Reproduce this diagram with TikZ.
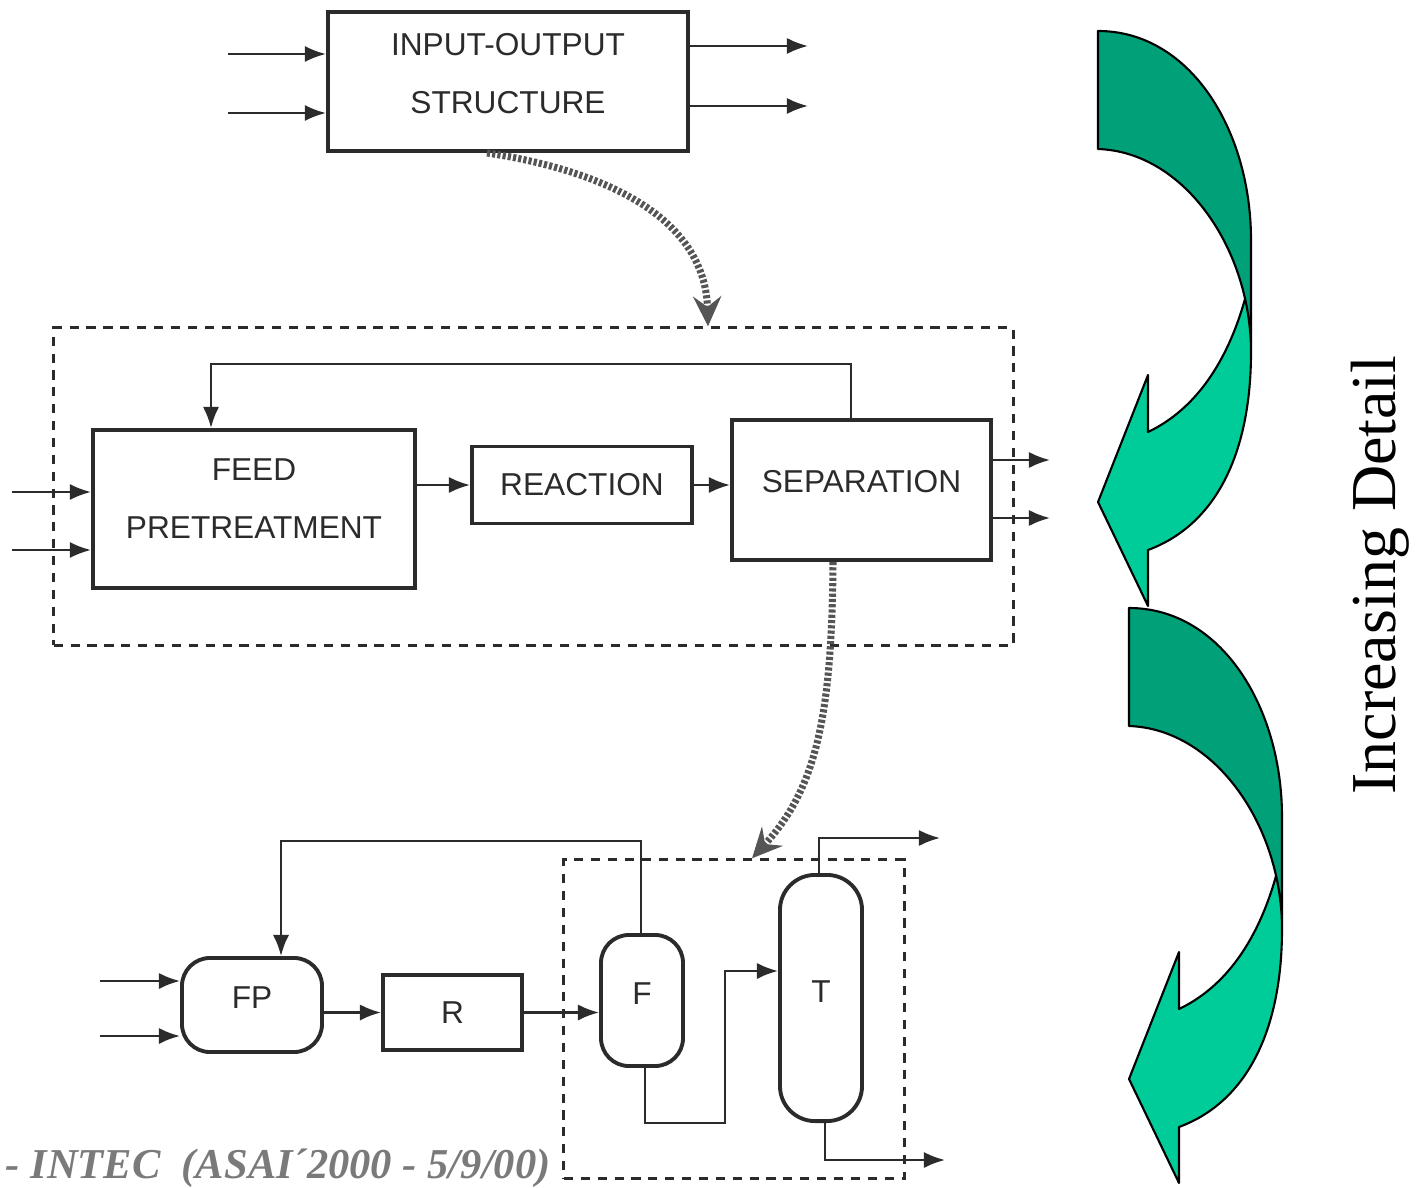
\documentclass[tikz,border=0pt]{standalone}
\usepackage{fontspec}
\setmainfont{Liberation Serif}
\newfontfamily\arialf{Liberation Sans}
\usetikzlibrary{arrows.meta,calc}
\definecolor{ink}{HTML}{2B2B2B}
\definecolor{gdark}{RGB}{0,160,120}
\definecolor{glight}{RGB}{0,204,153}
\definecolor{scangray}{HTML}{555555}
\definecolor{foot}{HTML}{7A7A7A}
\begin{document}
\begin{tikzpicture}[x=0.01cm,y=-0.01cm,
  blk/.style={draw=ink, line width=1.1pt, inner sep=0pt, text=ink, align=center,
    font=\arialf\fontsize{9}{16.5}\selectfont},
  rblk/.style={blk, rounded corners=0.28cm},
  flow/.style={draw=ink, line width=0.7pt, -{Latex[length=6pt,width=4.6pt]}},
  dbox/.style={draw=ink, line width=0.9pt, dash pattern=on 2.6pt off 2.2pt, inner sep=0pt},
  detail/.style={draw=scangray, line width=2pt, dash pattern=on 0.9pt off 0.6pt,
    -{Stealth[length=8.5pt,width=8pt,inset=3pt]}},
  garrow/.style={draw=black, line width=0.6pt, line join=round}]
\useasboundingbox (0,0) rectangle (1418,1188);

% ---- top level
\node[blk, text depth=0.16cm, minimum width=3.6cm, minimum height=1.39cm] (io) at (508,81.5) {INPUT-OUTPUT\\STRUCTURE};
\coordinate (ti1) at (228,54); \coordinate (ti2) at (228,113);
\coordinate (to1) at (808,46); \coordinate (to2) at (808,106);
\draw[flow] (ti1) -- (ti1 -| io.west);
\draw[flow] (ti2) -- (ti2 -| io.west);
\draw[flow] (to1 -| io.east) -- (to1);
\draw[flow] (to2 -| io.east) -- (to2);

% ---- middle level
\node[dbox, minimum width=9.59cm, minimum height=3.17cm] (d1) at (533.5,486.5) {};
\node[blk, text depth=0.2cm, minimum width=3.22cm, minimum height=1.58cm] (feed) at (254,509) {FEED\\PRETREATMENT};
\node[blk, minimum width=2.2cm, minimum height=0.77cm] (reac) at (582,485) {REACTION};
\node[blk, text depth=0.18cm, minimum width=2.59cm, minimum height=1.4cm] (sep) at (861.5,490) {SEPARATION};
\coordinate (fi1) at (12,492); \coordinate (fi2) at (12,550);
\draw[flow] (fi1) -- (fi1 -| feed.west);
\draw[flow] (fi2) -- (fi2 -| feed.west);
\coordinate (so1) at (1050,460); \coordinate (so2) at (1050,518);
\draw[flow] (so1 -| sep.east) -- (so1);
\draw[flow] (so2 -| sep.east) -- (so2);
\draw[flow] (feed.east |- reac.west) -- (reac.west);
\draw[flow] (reac.east) -- (reac.east -| sep.west);
\coordinate (rc1) at (851,364); \coordinate (rc2) at (211,364);
\draw[flow] (rc1 |- sep.north) -- (rc1) -- (rc2) -- (rc2 |- feed.north);

% ---- bottom level
\node[dbox, minimum width=3.4cm, minimum height=3.18cm] (d2) at (734,1019) {};
\node[rblk, text depth=0.14cm, minimum width=1.4cm, minimum height=0.94cm] (fp) at (252,1005) {FP};
\node[blk, minimum width=1.39cm, minimum height=0.75cm] (rr) at (452.5,1012.5) {R};
\node[rblk, text depth=0.14cm, minimum width=0.82cm, minimum height=1.31cm] (ff) at (642,1000.5) {F};
\node[blk, text depth=0.12cm, rounded corners=0.35cm, minimum width=0.82cm, minimum height=2.46cm] (tt) at (821,998) {T};
\coordinate (pi1) at (100,981); \coordinate (pi2) at (100,1036);
\draw[flow] (pi1) -- (pi1 -| fp.west);
\draw[flow] (pi2) -- (pi2 -| fp.west);
\draw[flow] (fp.east |- rr.west) -- (rr.west);
\draw[flow] (rr.east) -- (rr.east -| ff.west);
\coordinate (bc1) at (641,841); \coordinate (bc2) at (281,841);
\draw[flow] (bc1 |- ff.north) -- (bc1) -- (bc2) -- (bc2 |- fp.north);
\coordinate (fb1) at (645,1123); \coordinate (fb2) at (725,1123); \coordinate (fb3) at (725,971);
\draw[flow] (fb1 |- ff.south) -- (fb1) -- (fb2) -- (fb3) -- (fb3 -| tt.west);
\coordinate (tp1) at (819,838); \coordinate (tp2) at (940,838);
\draw[flow] (tp1 |- tt.north) -- (tp1) -- (tp2);
\coordinate (tb1) at (825,1160); \coordinate (tb2) at (945,1160);
\draw[flow] (tb1 |- tt.south) -- (tb1) -- (tb2);

% ---- detail arrows
\coordinate (da) at (487,0); \coordinate (db) at (708,0);
\coordinate (dc) at (833,0); \coordinate (dd) at (752,0);
\draw[detail] (io.south -| da) .. controls (600,170) and (705,215) .. (d1.north -| db);
\draw[detail] (sep.south -| dc) .. controls (832,720) and (815,790) .. (d2.north -| dd);

% ---- green curved arrows
\foreach \sx/\sy in {31/577, 0/0}{
\begin{scope}[shift={(\sx,\sy)}]
\fill[glight] (1245,299) .. controls (1225,370) and (1190,412) .. (1148,432) -- (1148,375) -- (1098,502) -- (1148,606) -- (1148,550) .. controls (1218,524) and (1251,450) .. (1251,352) -- (1251,299) -- cycle;
\draw[garrow] (1245,299) .. controls (1225,370) and (1190,412) .. (1148,432) -- (1148,375) -- (1098,502) -- (1148,606) -- (1148,550) .. controls (1218,524) and (1251,450) .. (1251,352);
\draw[garrow, fill=gdark] (1098,31) .. controls (1190,31) and (1251,130) .. (1251,240) -- (1251,352) .. controls (1251,250) and (1185,152) .. (1098,149) -- cycle;
\end{scope}}

% ---- labels
\node[rotate=90, font=\fontsize{18.2}{20}\selectfont, inner sep=0pt] (lbl) at (1380,575) {Increasing Detail};
\node[anchor=base west, inner sep=0pt, text=foot, font=\bfseries\itshape\fontsize{12.1}{14}\selectfont] (foot) at (5,1178) {- INTEC\ \ (ASAI´2000 - 5/9/00)};
\end{tikzpicture}
\end{document}
